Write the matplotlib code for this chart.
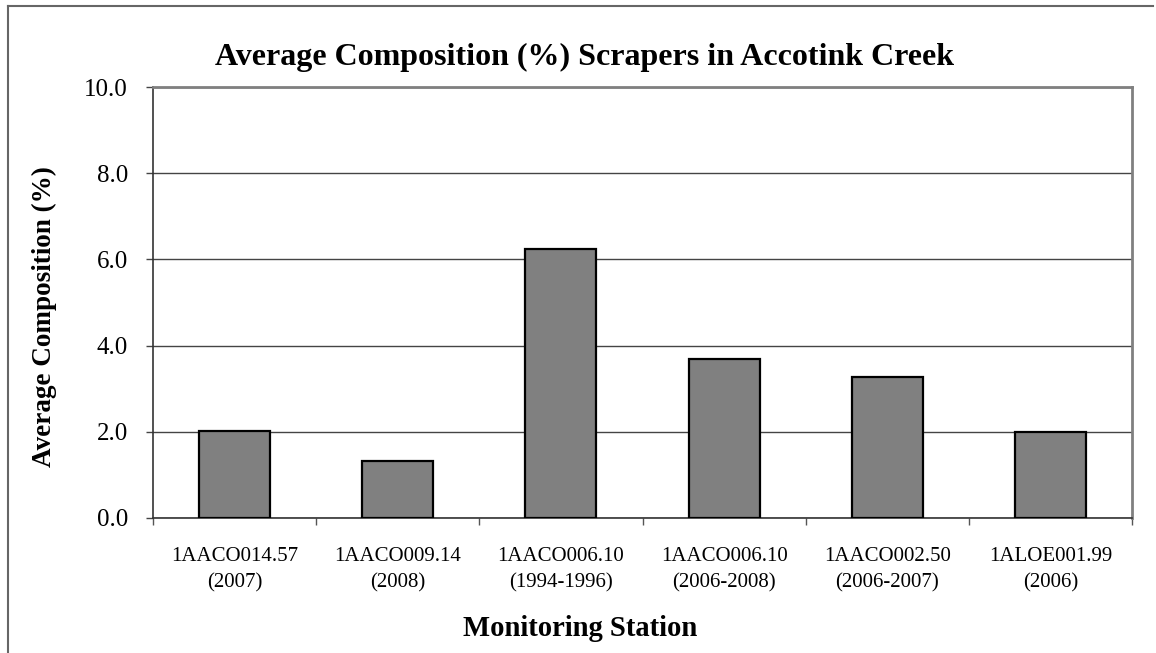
import matplotlib
matplotlib.use("Agg")
import matplotlib.pyplot as plt
from matplotlib.lines import Line2D
from matplotlib.ticker import FormatStrFormatter, FixedLocator

# data
stations = ["1AACO014.57\n(2007)", "1AACO009.14\n(2008)", "1AACO006.10\n(1994-1996)",
            "1AACO006.10\n(2006-2008)", "1AACO002.50\n(2006-2007)", "1ALOE001.99\n(2006)"]
composition = [2.02, 1.32, 6.24, 3.70, 3.28, 1.99]
y_ticks = [0, 2, 4, 6, 8, 10]

plt.rcParams['font.family'] = ['Liberation Serif', 'DejaVu Serif']

W, H = 1156, 653
fig = plt.figure(figsize=(W / 100, H / 100), dpi=100)
ax = fig.add_axes([153 / W, 1 - 518 / H, (1132 - 153) / W, (518 - 87) / H])

x = list(range(len(stations)))
ax.bar(x, composition, width=0.436, color="#808080", edgecolor="black", linewidth=1.6, zorder=3)

ax.set_xlim(-0.5, len(stations) - 0.5)
ax.set_ylim(0, 10)
ax.set_yticks(y_ticks)
ax.yaxis.set_major_formatter(FormatStrFormatter("%.1f"))
ax.yaxis.grid(True, color="#444444", linewidth=1.0, zorder=0)

ax.set_xticks(x)
ax.set_xticklabels(stations, fontsize=15, linespacing=1.5)
ax.xaxis.set_minor_locator(FixedLocator([i - 0.5 for i in range(len(stations) + 1)]))
ax.tick_params(axis="x", which="major", length=0, pad=21)
ax.tick_params(axis="x", which="minor", length=5, width=1, color="#555555", direction="out")
ax.tick_params(axis="y", length=5, width=1, color="#444444", direction="out", pad=13, labelsize=18)

for side in ["top", "right"]:
    ax.spines[side].set_color("#808080")
    ax.spines[side].set_linewidth(2)
ax.spines["left"].set_color("#333333")
ax.spines["left"].set_linewidth(1.2)
ax.spines["bottom"].set_color("#333333")
ax.spines["bottom"].set_linewidth(1.2)

ax.set_ylabel("Average Composition (%)", fontsize=19.5, fontweight="bold", labelpad=0)
ax.yaxis.set_label_coords((57 - 153) / (1132 - 153), (518 - 317) / (518 - 87))

fig.text(585 / W, 1 - 57 / H, "Average Composition (%) Scrapers in Accotink Creek",
         fontsize=23, fontweight="bold", ha="center", va="center")
fig.text(580 / W, 1 - 629 / H, "Monitoring Station",
         fontsize=20.6, fontweight="bold", ha="center", va="center")

# outer chart border (cropped at right and bottom)
fig.add_artist(Line2D([8 / W, 8 / W], [0, 1 - 6 / H], color="#666666", linewidth=1.5))
fig.add_artist(Line2D([8 / W, 1153 / W], [1 - 6 / H, 1 - 6 / H], color="#666666", linewidth=1.5))

fig.savefig("out.png", dpi=100, facecolor="white")
